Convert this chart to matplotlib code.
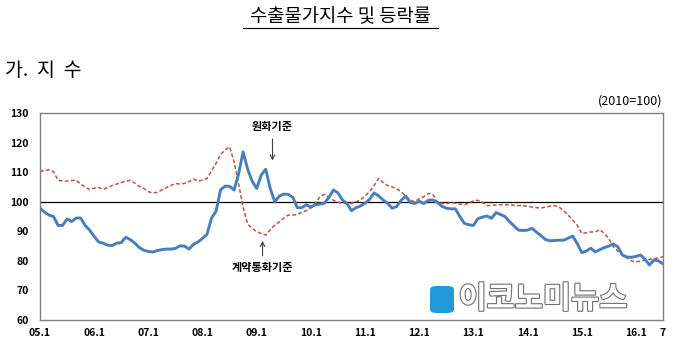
import matplotlib
matplotlib.use('Agg')
import matplotlib.pyplot as plt
import matplotlib.patheffects as pe
from matplotlib.patches import FancyBboxPatch
import numpy as np

plt.rcParams['font.family'] = ['Noto Sans CJK KR', 'DejaVu Sans']

# monthly index, 2005.1 - 2016.7 (2010=100)
won_basis = [
    97.8, 96.5, 95.5, 95.0, 92.0, 92.0, 94.2, 93.3, 94.5, 94.5, 92.0, 90.4,
    88.3, 86.4, 86.0, 85.3, 85.2, 86.0, 86.2, 88.0, 87.2, 86.0, 84.5, 83.6,
    83.2, 83.0, 83.5, 83.8, 84.0, 84.0, 84.2, 85.1, 85.0, 84.0, 85.6, 86.4,
    87.6, 89.0, 94.5, 96.8, 104.0, 105.3, 105.2, 104.0, 109.5, 116.9, 111.0, 107.0,
    104.5, 109.0, 111.0, 104.5, 100.0, 101.9, 102.6, 102.5, 101.5, 98.0, 98.0, 99.0,
    98.2, 99.0, 99.2, 99.5, 101.5, 104.0, 103.0, 100.6, 99.4, 97.0, 98.0, 98.6,
    99.5, 100.8, 103.0, 102.0, 100.6, 99.5, 97.8, 98.4, 100.5, 101.9, 99.8, 99.4,
    100.2, 99.4, 100.5, 100.6, 99.8, 98.5, 97.8, 97.6, 97.6, 95.0, 92.7, 92.2,
    92.0, 94.3, 94.8, 95.2, 94.4, 96.3, 95.7, 95.0, 93.3, 91.8, 90.4, 90.3,
    90.4, 91.0, 89.7, 88.5, 87.2, 86.8, 86.9, 87.0, 87.0, 87.7, 88.4, 85.9,
    82.8, 83.3, 84.3, 83.0, 83.8, 84.5, 85.0, 85.7, 84.8, 82.0, 81.3, 81.2,
    81.5, 82.0, 80.6, 78.6, 80.3, 80.0, 79.0,
]
contract_basis = [
    110.2, 110.6, 110.8, 110.2, 107.3, 107.0, 107.0, 107.2, 107.3, 106.0, 105.0, 104.1,
    104.6, 104.8, 104.2, 104.8, 105.5, 106.0, 106.5, 107.0, 107.3, 106.3, 105.2, 104.5,
    103.4, 103.0, 103.2, 104.0, 104.8, 105.5, 106.2, 106.0, 106.2, 106.8, 107.7, 107.0,
    107.3, 107.9, 110.5, 113.0, 116.0, 117.5, 118.6, 113.5, 106.0, 98.0, 92.5, 91.0,
    89.9, 89.3, 88.7, 90.5, 92.1, 93.2, 94.5, 95.5, 95.5, 95.7, 96.5, 97.0,
    98.0, 99.5, 101.7, 102.5, 101.5, 100.5, 99.8, 99.5, 99.3, 99.5, 100.0, 100.6,
    102.0, 103.4, 105.5, 107.9, 106.5, 105.5, 105.0, 104.4, 103.4, 102.0, 100.6, 100.0,
    101.0, 101.7, 102.8, 102.5, 100.0, 99.5, 99.3, 99.8, 99.5, 99.2, 99.0, 99.5,
    100.3, 100.5, 99.8, 98.7, 98.8, 98.9, 99.0, 99.0, 99.0, 98.8, 98.7, 98.7,
    98.5, 98.2, 98.0, 97.9, 98.2, 98.5, 98.7, 98.2, 97.0, 95.5, 93.8, 92.1,
    89.3, 89.5, 89.8, 89.8, 90.6, 89.3, 87.5, 84.8, 83.3, 82.0, 81.0, 80.0,
    79.7, 79.9, 80.2, 80.5, 80.8, 81.0, 81.4,
]
tick_labels = ['05.1', '06.1', '07.1', '08.1', '09.1', '10.1', '11.1',
               '12.1', '13.1', '14.1', '15.1', '16.1', '7']
tick_months = [0, 12, 24, 36, 48, 60, 72, 84, 96, 108, 120, 132, 138]

months = np.arange(len(won_basis))

fig = plt.figure(figsize=(6.8, 3.59), dpi=100)
ax = fig.add_axes([0.0588, 0.1086, 0.9162, 0.5764])

ax.axhline(100, color='black', lw=0.9, zorder=1)
ax.plot(months, contract_basis, color='#C0504D', lw=1.1, ls=(0, (2.5, 1.5)), zorder=2)
ax.plot(months, won_basis, color='#4A7EBB', lw=2.1, zorder=3)

ax.set_xlim(0, 138)
ax.set_ylim(60, 130)
ax.set_yticks(range(60, 131, 10))
ax.set_xticks(tick_months)
ax.set_xticklabels(tick_labels)
ax.tick_params(axis='both', labelsize=7.5, length=0, pad=6)
ax.tick_params(axis='y', pad=8)
for lbl in ax.get_xticklabels() + ax.get_yticklabels():
    lbl.set_fontweight('bold')
for sp in ax.spines.values():
    sp.set_color('#808080')
    sp.set_linewidth(1.0)

# annotations
ax.annotate('원화기준', xy=(51.5, 113.0), xytext=(51.5, 125.3),
            ha='center', va='center', fontsize=8, fontweight='bold',
            arrowprops=dict(arrowstyle='->', color='#404040', lw=0.8))
ax.annotate('계약통화기준', xy=(49.3, 87.7), xytext=(49.3, 77.6),
            ha='center', va='center', fontsize=8, fontweight='bold',
            arrowprops=dict(arrowstyle='->', color='#404040', lw=0.8))

# watermark
logo = FancyBboxPatch((430 / 680, 1 - 313 / 359), 24 / 680, 27 / 359,
                      boxstyle='round,pad=0,rounding_size=0.01',
                      transform=fig.transFigure, facecolor='#1E9BD7',
                      edgecolor='none', zorder=5)
fig.patches.append(logo)
fig.text(543 / 680, 1 - 299 / 359, '이코노미뉴스', ha='center', va='center',
         fontsize=22, fontweight='bold', color='white',
         path_effects=[pe.withStroke(linewidth=1.6, foreground='#707070')])

fig.text(0.5, 1 - 17 / 359, '수출물가지수 및 등락률', ha='center', va='center',
         fontsize=13.5)
fig.add_artist(plt.Line2D([243 / 680, 438 / 680], [1 - 28 / 359, 1 - 28 / 359],
                          color='black', lw=0.8, transform=fig.transFigure))
fig.text(5 / 680, 1 - 70 / 359, '가.  지  수', ha='left', va='center', fontsize=14)
fig.text(662 / 680, 1 - 101 / 359, '(2010=100)', ha='right', va='center',
         fontsize=9)

fig.savefig('out.png', dpi=100)
